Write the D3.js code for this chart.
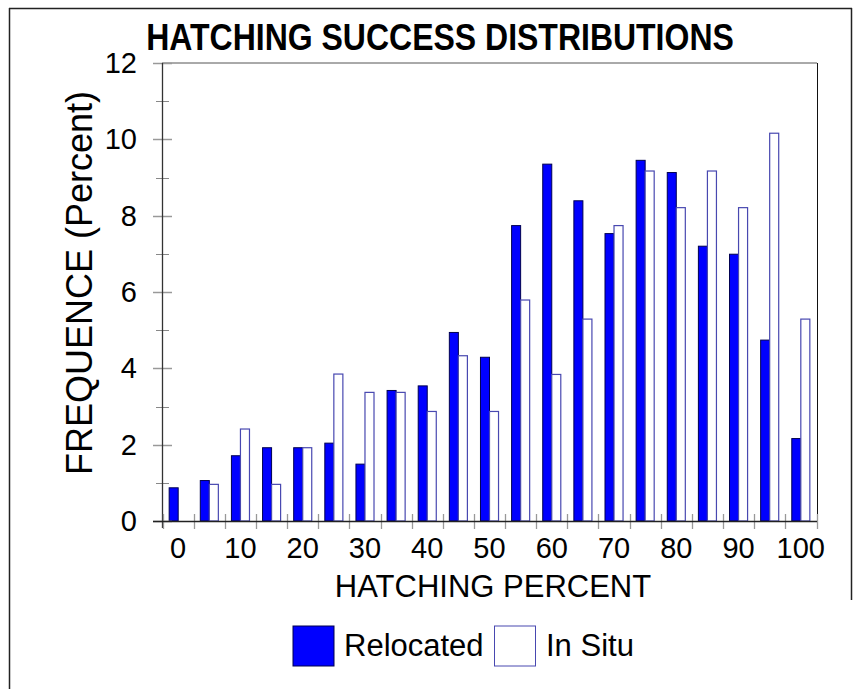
<!DOCTYPE html>
<html><head><meta charset="utf-8">
<script src="https://cdn.jsdelivr.net/npm/d3@7"></script>
<style>body{margin:0;background:#fff}svg{display:block}text{font-family:"Liberation Sans",Arial,sans-serif}</style>
</head><body>
<svg id="c" width="860" height="689"></svg>
<script>
const categories = ["0","5","10","15","20","25","30","35","40","45","50","55","60","65","70","75","80","85","90","95","100"];
const relocated = [0.87,1.06,1.71,1.92,1.92,2.04,1.49,3.42,3.54,4.94,4.29,7.74,9.35,8.39,7.53,9.45,9.13,7.20,6.99,4.74,2.16];
const inSitu   = [0,0.96,2.41,0.96,1.92,3.85,3.37,3.37,2.87,4.33,2.87,5.79,3.84,5.29,7.74,9.17,8.21,9.17,8.21,10.16,5.29];
const xTickLabels = ["0","10","20","30","40","50","60","70","80","90","100"];
const yMajorTicks = [0,2,4,6,8,10,12];
const yMinorTicks = [1,3,5,7,9,11];
const seriesNames = ["Relocated","In Situ"];

const svg = d3.select("#c");
const L = 162, R = 817, T = 63, B = 521;
const x = d3.scaleBand().domain(categories).range([L, R]).paddingInner(0.42).paddingOuter(0.23);
const y = d3.scaleLinear().domain([0, 12]).range([B, T]);
const step = x.step();
const bw = x.bandwidth() / 2;

// outer frame
svg.append("line").attr("x1",9.5).attr("x2",9.5).attr("y1",8).attr("y2",689).attr("stroke","#222").attr("stroke-width",1.5);
svg.append("line").attr("x1",9).attr("x2",852).attr("y1",8.5).attr("y2",8.5).attr("stroke","#222").attr("stroke-width",1.5);
svg.append("line").attr("x1",851.5).attr("x2",851.5).attr("y1",8).attr("y2",600).attr("stroke","#222").attr("stroke-width",1.5);

// title (slightly condensed / taller like the original)
svg.append("text").attr("transform","translate(440,50) scale(1,1.18)").attr("text-anchor","middle")
  .attr("font-size",32).attr("font-weight","bold").text("HATCHING SUCCESS DISTRIBUTIONS");

// plot frame (top/right)
svg.append("line").attr("x1",L).attr("x2",R).attr("y1",T).attr("y2",T).attr("stroke","#555").attr("stroke-width",1);
svg.append("line").attr("x1",R+0.5).attr("x2",R+0.5).attr("y1",T).attr("y2",B).attr("stroke","#111").attr("stroke-width",1);

// bars
const g = svg.append("g");
g.selectAll("rect.rel").data(categories).join("rect").attr("class","rel")
  .attr("x", d => x(d)).attr("width", bw)
  .attr("y", (d,i) => y(relocated[i])).attr("height", (d,i) => y(0) - y(relocated[i]))
  .attr("fill","#0000ff").attr("stroke","#000050").attr("stroke-width",1);
g.selectAll("rect.ins").data(categories).join("rect").attr("class","ins")
  .attr("x", d => x(d) + bw).attr("width", bw)
  .attr("y", (d,i) => y(inSitu[i])).attr("height", (d,i) => y(0) - y(inSitu[i]))
  .attr("fill","#fff").attr("stroke","#4848b0").attr("stroke-width",1.2);

// y axis
const ya = svg.append("g");
ya.selectAll("line.maj").data(yMajorTicks).join("line")
  .attr("x1",L-9).attr("x2",L+10).attr("y1",d=>Math.round(y(d))+0.5).attr("y2",d=>Math.round(y(d))+0.5)
  .attr("stroke","#999").attr("stroke-width",1.5);
ya.selectAll("line.min").data(yMinorTicks).join("line")
  .attr("x1",L-6).attr("x2",L+7).attr("y1",d=>Math.round(y(d))+0.5).attr("y2",d=>Math.round(y(d))+0.5)
  .attr("stroke","#888").attr("stroke-width",1);
ya.append("line").attr("x1",L+0.5).attr("x2",L+0.5).attr("y1",T).attr("y2",B+7).attr("stroke","#333").attr("stroke-width",1.3);
ya.selectAll("text").data(yMajorTicks).join("text")
  .attr("x",137).attr("y",d=>y(d)+10).attr("text-anchor","end").attr("font-size",29).text(d=>d);

// x axis
const xa = svg.append("g");
const bounds = categories.map(c => x(c) - step * 0.21).concat([R]);
xa.selectAll("line.t").data(bounds).join("line")
  .attr("x1",d=>Math.round(d)+0.5).attr("x2",d=>Math.round(d)+0.5).attr("y1",B-7).attr("y2",B+8)
  .attr("stroke","#999").attr("stroke-width",1.3);
xa.append("line").attr("x1",L-9).attr("x2",R).attr("y1",B+0.5).attr("y2",B+0.5).attr("stroke","#222").attr("stroke-width",1.3);
xa.selectAll("text").data(xTickLabels).join("text")
  .attr("x",d=>x(d)+x.bandwidth()/2).attr("y",558).attr("text-anchor","middle").attr("font-size",29).text(d=>d);

// axis titles
svg.append("text").attr("x",493).attr("y",597).attr("text-anchor","middle").attr("font-size",31).text("HATCHING PERCENT");
svg.append("text").attr("transform","translate(92,283) rotate(-90)").attr("text-anchor","middle").attr("font-size",36).text("FREQUENCE (Percent)");

// legend
const leg = svg.append("g");
leg.append("rect").attr("x",293).attr("y",626).attr("width",41).attr("height",40).attr("fill","#0000ff").attr("stroke","#000050");
leg.append("text").attr("x",344).attr("y",656).attr("font-size",31).text(seriesNames[0]);
leg.append("rect").attr("x",494.5).attr("y",626).attr("width",41).attr("height",40).attr("fill","#fff").attr("stroke","#4848b0");
leg.append("text").attr("x",546).attr("y",656).attr("font-size",31).text(seriesNames[1]);
</script>
</body></html>
